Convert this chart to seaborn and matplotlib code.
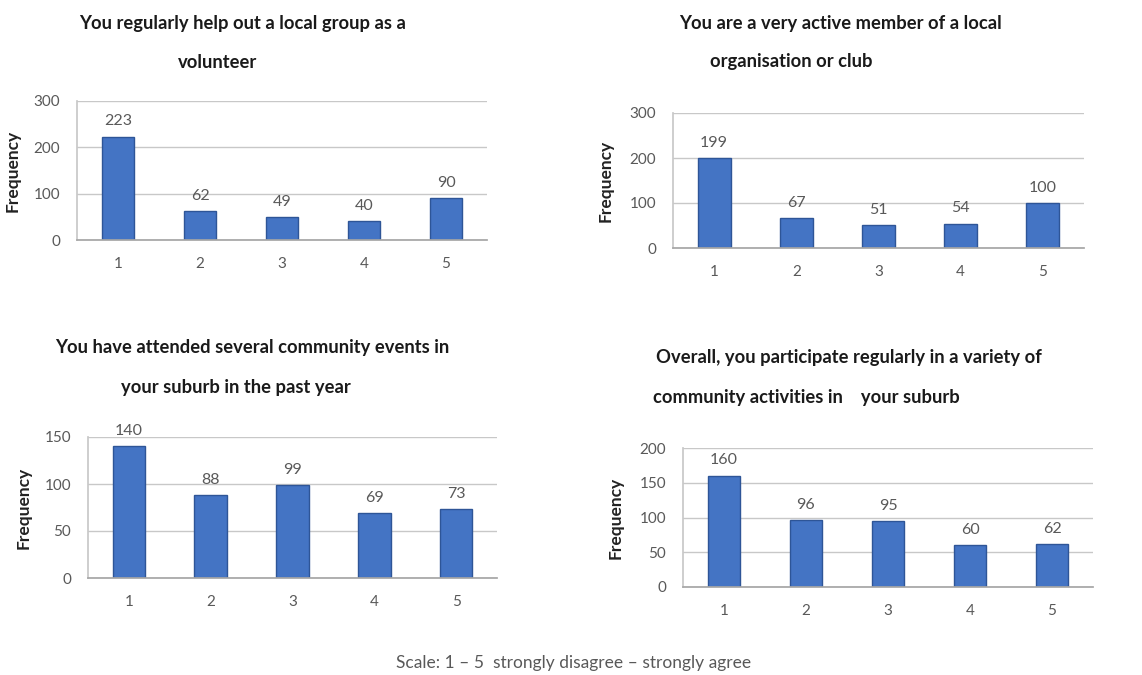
import matplotlib
matplotlib.use("Agg")
import matplotlib.pyplot as plt
import seaborn as sns
import pandas as pd

# --- data ---
SCALE = ["1", "2", "3", "4", "5"]
VOLUNTEER = [223, 62, 49, 40, 90]
ACTIVE_MEMBER = [199, 67, 51, 54, 100]
EVENTS = [140, 88, 99, 69, 73]
OVERALL = [160, 96, 95, 60, 62]

TITLES = [
    ["You regularly help out a local group as a", "volunteer"],
    ["You are a very active member of a local", "organisation or club"],
    ["You have attended several community events in", "your suburb in the past year"],
    ["Overall, you participate regularly in a variety of", "community activities in    your suburb"],
]
Y_MAX = [300, 300, 150, 200]
Y_STEP = [100, 100, 50, 50]
CAPTION = "Scale: 1 \u2013 5  strongly disagree \u2013 strongly agree"

BAR_COLOR = "#4474C4"
EDGE_COLOR = "#2E5597"
TEXT_GRAY = "#595959"
GRID_GRAY = "#C8C8C8"

sns.set_theme(style="white")
plt.rcParams["font.family"] = ["Lato", "DejaVu Sans"]

W, H = 1142, 675
fig = plt.figure(figsize=(W / 100, H / 100), dpi=100)

# axes boxes in pixels: left, right, top, bottom
boxes = [
    (77, 487, 101, 240),
    (673, 1084, 113, 248),
    (88, 497, 437, 578),
    (683, 1093, 448, 587),
]
# title line positions in pixels: (x center, y) for each line
title_pos = [
    [(243, 23), (218, 62)],
    [(840, 23), (791, 62)],
    [(252, 347), (236, 388)],
    [(849, 358), (806, 398)],
]
ylabel_x = [-0.137, -0.144, -0.137, -0.144]

series = [VOLUNTEER, ACTIVE_MEMBER, EVENTS, OVERALL]

for i, values in enumerate(series):
    l, r, t, b = boxes[i]
    ax = fig.add_axes([l / W, 1 - b / H, (r - l) / W, (b - t) / H])
    df = pd.DataFrame({"Scale": SCALE, "Frequency": values})
    sns.barplot(data=df, x="Scale", y="Frequency", ax=ax, color=BAR_COLOR,
                width=0.4, edgecolor=EDGE_COLOR, linewidth=1.0, saturation=1)
    ax.bar_label(ax.containers[0], padding=6, fontsize=11.5, color=TEXT_GRAY)

    ax.set_ylim(0, Y_MAX[i])
    ax.set_xlim(-0.5, 4.5)
    ax.set_yticks(range(0, Y_MAX[i] + 1, Y_STEP[i]))
    ax.yaxis.grid(True, color=GRID_GRAY, linewidth=1.0)
    ax.set_axisbelow(True)
    for side in ["top", "right"]:
        ax.spines[side].set_visible(False)
    ax.spines["left"].set_color(GRID_GRAY)
    ax.spines["bottom"].set_color("#A6A6A6")
    ax.tick_params(axis="y", labelsize=11, labelcolor=TEXT_GRAY, length=0, pad=12)
    ax.tick_params(axis="x", labelsize=11, labelcolor=TEXT_GRAY, length=0, pad=12)
    ax.set_xticks([k + 0.5 for k in range(-1, 5)], minor=True)
    ax.tick_params(axis="x", which="minor", length=4, color="#A6A6A6", direction="out")

    ax.set_xlabel("")
    ax.set_ylabel("Frequency", fontsize=12.5, fontweight="bold", color="#222222")
    ax.yaxis.set_label_coords(ylabel_x[i], 0.5)

    for line, (x, y) in zip(TITLES[i], title_pos[i]):
        fig.text(x / W, 1 - y / H, line, ha="center", va="center",
                 fontsize=13.2, fontweight="bold", color="#1a1a1a")

fig.text(574 / W, 1 - 663 / H, CAPTION, ha="center", va="center",
         fontsize=12.5, color=TEXT_GRAY)

fig.savefig("out.png", dpi=100, facecolor="white")
